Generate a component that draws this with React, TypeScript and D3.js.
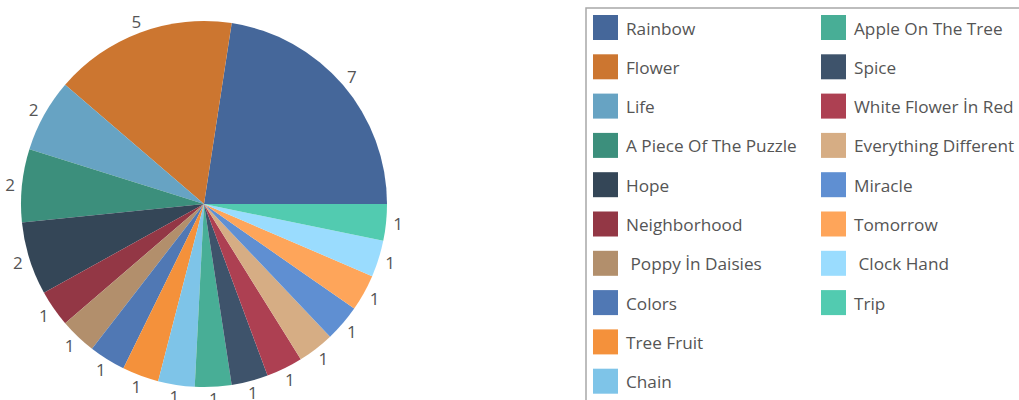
import React from "react";
import * as d3 from "d3";

const categories = [
  "Rainbow", "Flower", "Life", "A Piece Of The Puzzle", "Hope", "Neighborhood",
  " Poppy İn Daisies", "Colors", "Tree Fruit", "Chain", "Apple On The Tree", "Spice",
  "White Flower İn Red", "Everything Different", "Miracle", "Tomorrow", " Clock Hand", "Trip",
];
const values = [7, 5, 2, 2, 2, 1, 1, 1, 1, 1, 1, 1, 1, 1, 1, 1, 1, 1];
const colors = [
  "#45679a", "#cc7630", "#67a3c3", "#3c8f7c", "#344657", "#933745",
  "#b28f6c", "#5078b4", "#f4913b", "#7ec4e8", "#48ae96", "#3e536b",
  "#ad4052", "#d6ad84", "#5f8fd2", "#fea55a", "#9adcfe", "#52cbb0",
];

const W = 1019;
const H = 400;
const cx = 204;
const cy = 204;
const R = 183;
const labelR = 195;
const FONT = "'Open Sans', 'Noto Sans', sans-serif";

export default function App() {
  const data = categories.map((c, i) => ({ name: c, value: values[i], color: colors[i] }));
  const pie = d3
    .pie<any>()
    .value((d) => d.value)
    .sort(null)
    .startAngle(Math.PI / 2)
    .endAngle(Math.PI / 2 - 2 * Math.PI);
  const arcs = pie(data);
  const arc = d3.arc<any>().innerRadius(0).outerRadius(R);

  const rowY = d3.scaleLinear().domain([0, 1]).range([15, 54.3]);
  const perCol = 10;

  return (
    <svg width={W} height={H} style={{ position: "absolute", left: 0, top: 0 }}>
      <g transform={`translate(${cx},${cy})`}>
        {arcs.map((a, i) => (
          <path key={i} d={arc(a) as string} fill={a.data.color} />
        ))}
        {arcs.map((a, i) => {
          const mid = (a.startAngle + a.endAngle) / 2;
          const x = labelR * Math.sin(mid);
          const y = -labelR * Math.cos(mid);
          return (
            <text
              key={"l" + i}
              x={x}
              y={y}
              textAnchor="middle"
              dominantBaseline="central"
              fontFamily={FONT}
              fontSize={17}
              fill="#555"
            >
              {a.data.value}
            </text>
          );
        })}
      </g>
      <rect x={586} y={8} width={W} height={H} fill="none" stroke="#a8a8a8" strokeWidth={1.5} />
      {data.map((d, i) => {
        const col = Math.floor(i / perCol);
        const row = i % perCol;
        const sx = col === 0 ? 593 : 821;
        const y = rowY(row);
        return (
          <g key={"g" + i}>
            <rect x={sx} y={y} width={25} height={25} fill={d.color} />
            <text
              x={sx + 33}
              y={y + 13}
              dominantBaseline="central"
              fontFamily={FONT}
              fontSize={17.2}
              fill="#555"
              style={{ whiteSpace: "pre" }}
            >
              {d.name}
            </text>
          </g>
        );
      })}
    </svg>
  );
}
